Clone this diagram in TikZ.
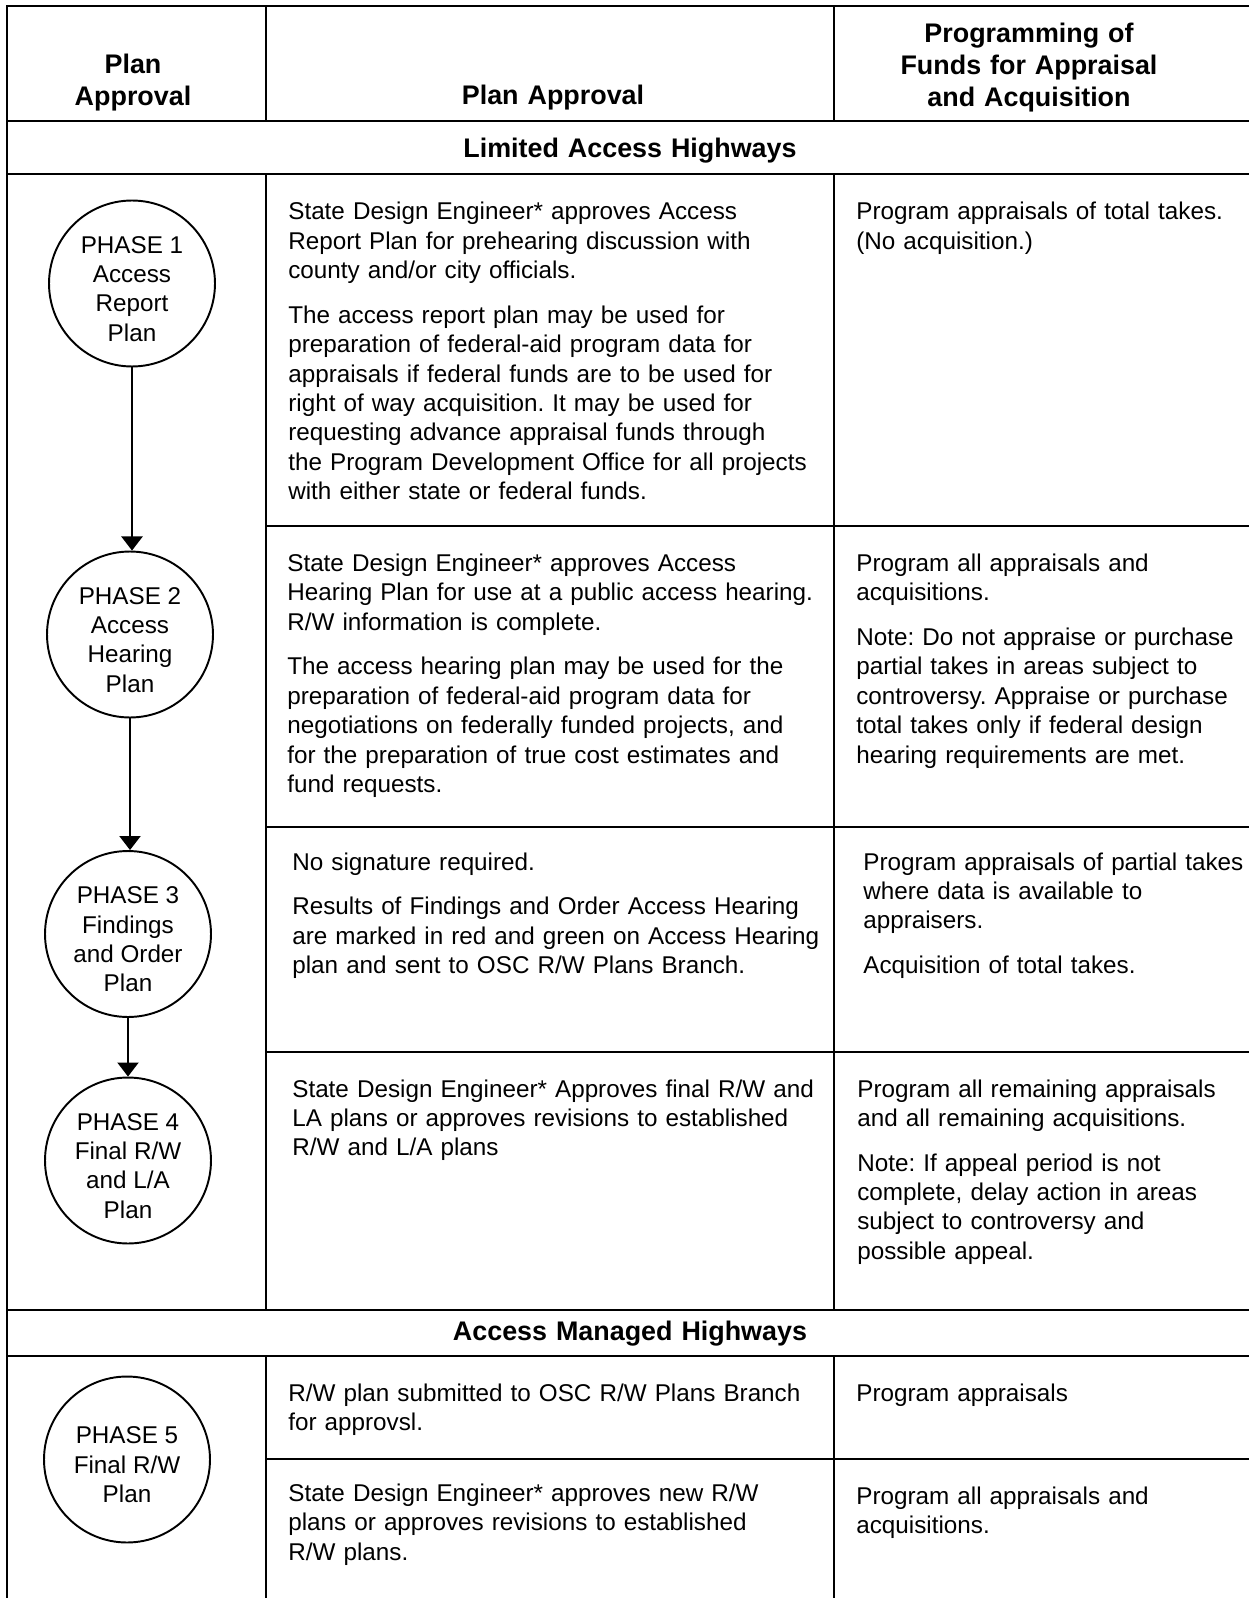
\documentclass[tikz,border=0pt]{standalone}
\usepackage{fontspec}
\setmainfont{Liberation Sans}
\usepackage{tikz}
\usetikzlibrary{arrows.meta}
\frenchspacing
\newcommand{\phtop}{\rule{0pt}{15.8pt}}

\begin{document}
\begin{tikzpicture}[x=0.02cm, y=-0.02cm,
    rule/.style={line width=1.4pt},
    flow/.style={line width=1.1pt, -{Triangle[length=8pt,width=12pt]}},
    phase/.style={circle, draw, line width=1.1pt, minimum size=3.32cm, inner sep=0pt,
        align=center, font=\fontsize{13.8}{16.7}\selectfont},
    cell/.style={anchor=base west, inner sep=0pt, align=left, text width=#1,
        font=\fontsize{13.8}{16.7}\selectfont},
    cell/.default=11cm,
    head/.style={anchor=base, inner sep=0pt, align=center, text width=#1,
        font=\fontsize{15.3}{18}\selectfont\bfseries},
    head/.default=6cm]
    \useasboundingbox (0,0) rectangle (1249,1598);

    % Grid
    \draw[rule] (1249,6) -- (7,6) -- (7,1598);
    \draw[rule] (7,121) -- (1249,121);
    \draw[rule] (7,174) -- (1249,174);
    \draw[rule] (7,1310) -- (1249,1310);
    \draw[rule] (7,1356) -- (1249,1356);
    \foreach \y in {526,827,1052,1459}
        \draw[rule] (266,\y) -- (1249,\y);
    \foreach \x in {266,834} {
        \draw[rule] (\x,6) -- (\x,121);
        \draw[rule] (\x,174) -- (\x,1310);
        \draw[rule] (\x,1356) -- (\x,1598);
    }

    % Headings
    \node[head=4.5cm] (hplan) at (133,74) {Plan\\Approval};
    \node[head=10cm] (happr) at (553,105) {Plan Approval};
    \node[head=7.5cm] (hfund) at (1029,43) {Programming of\\Funds for Appraisal\\and Acquisition};
    \node[head=20cm] (limited) at (630,158) {Limited Access Highways};
    \node[head=20cm] (managed) at (630,1340) {Access Managed Highways};

    % Phases
    \node[phase] (p1) at (132,283.5) {\phtop PHASE 1\\Access\\Report\\Plan};
    \node[phase] (p2) at (130,634.5) {\phtop PHASE 2\\Access\\Hearing\\Plan};
    \node[phase] (p3) at (128,934) {\phtop PHASE 3\\Findings\\and Order\\Plan};
    \node[phase] (p4) at (128,1160.5) {\phtop PHASE 4\\Final R/W\\and L/A\\Plan};
    \node[phase] (p5) at (127,1459.5) {\phtop PHASE 5\\Final R/W\\Plan};

    \draw[flow] (p1.south) -- (p1.south |- p2.north);
    \draw[flow] (p2.south) -- (p2.south |- p3.north);
    \draw[flow] (p3.south) -- (p3.south |- p4.north);

    % Plan approval column
    \node[cell] (a1) at (288,220) {State Design Engineer* approves Access\\
        Report Plan for prehearing discussion with\\
        county and/or city officials.\\[8.8pt]
        The access report plan may be used for\\
        preparation of federal-aid program data for\\
        appraisals if federal funds are to be used for\\
        right of way acquisition. It may be used for\\
        requesting advance appraisal funds through\\
        the Program Development Office for all projects\\
        with either state or federal funds.};
    \node[cell] (a2) at (287,571.5) {State Design Engineer* approves Access\\
        Hearing Plan for use at a public access hearing.\\
        R/W information is complete.\\[8.8pt]
        The access hearing plan may be used for the\\
        preparation of federal-aid program data for\\
        negotiations on federally funded projects, and\\
        for the preparation of true cost estimates and\\
        fund requests.};
    \node[cell] (a3) at (292,870) {No signature required.\\[8.8pt]
        Results of Findings and Order Access Hearing\\
        are marked in red and green on Access Hearing\\
        plan and sent to OSC R/W Plans Branch.};
    \node[cell] (a4) at (292,1097) {State Design Engineer* Approves final R/W and\\
        LA plans or approves revisions to established\\
        R/W and L/A plans};
    \node[cell] (a5) at (288,1401.5) {R/W plan submitted to OSC R/W Plans Branch\\
        for approvsl.};
    \node[cell] (a6) at (288,1501.5) {State Design Engineer* approves new R/W\\
        plans or approves revisions to established\\
        R/W plans.};

    % Funds column
    \node[cell=8cm] (f1) at (856,220) {Program appraisals of total takes.\\
        (No acquisition.)};
    \node[cell=8cm] (f2) at (856,571.5) {Program all appraisals and\\
        acquisitions.\\[8.8pt]
        Note: Do not appraise or purchase\\
        partial takes in areas subject to\\
        controversy. Appraise or purchase\\
        total takes only if federal design\\
        hearing requirements are met.};
    \node[cell=8cm] (f3) at (863,870) {Program appraisals of partial takes\\
        where data is available to\\
        appraisers.\\[8.8pt]
        Acquisition of total takes.};
    \node[cell=8cm] (f4) at (857,1097) {Program all remaining appraisals\\
        and all remaining acquisitions.\\[8.8pt]
        Note: If appeal period is not\\
        complete, delay action in areas\\
        subject to controversy and\\
        possible appeal.};
    \node[cell=8cm] (f5) at (856,1401.5) {Program appraisals};
    \node[cell=8cm] (f6) at (856,1504.5) {Program all appraisals and\\
        acquisitions.};
\end{tikzpicture}
\end{document}
